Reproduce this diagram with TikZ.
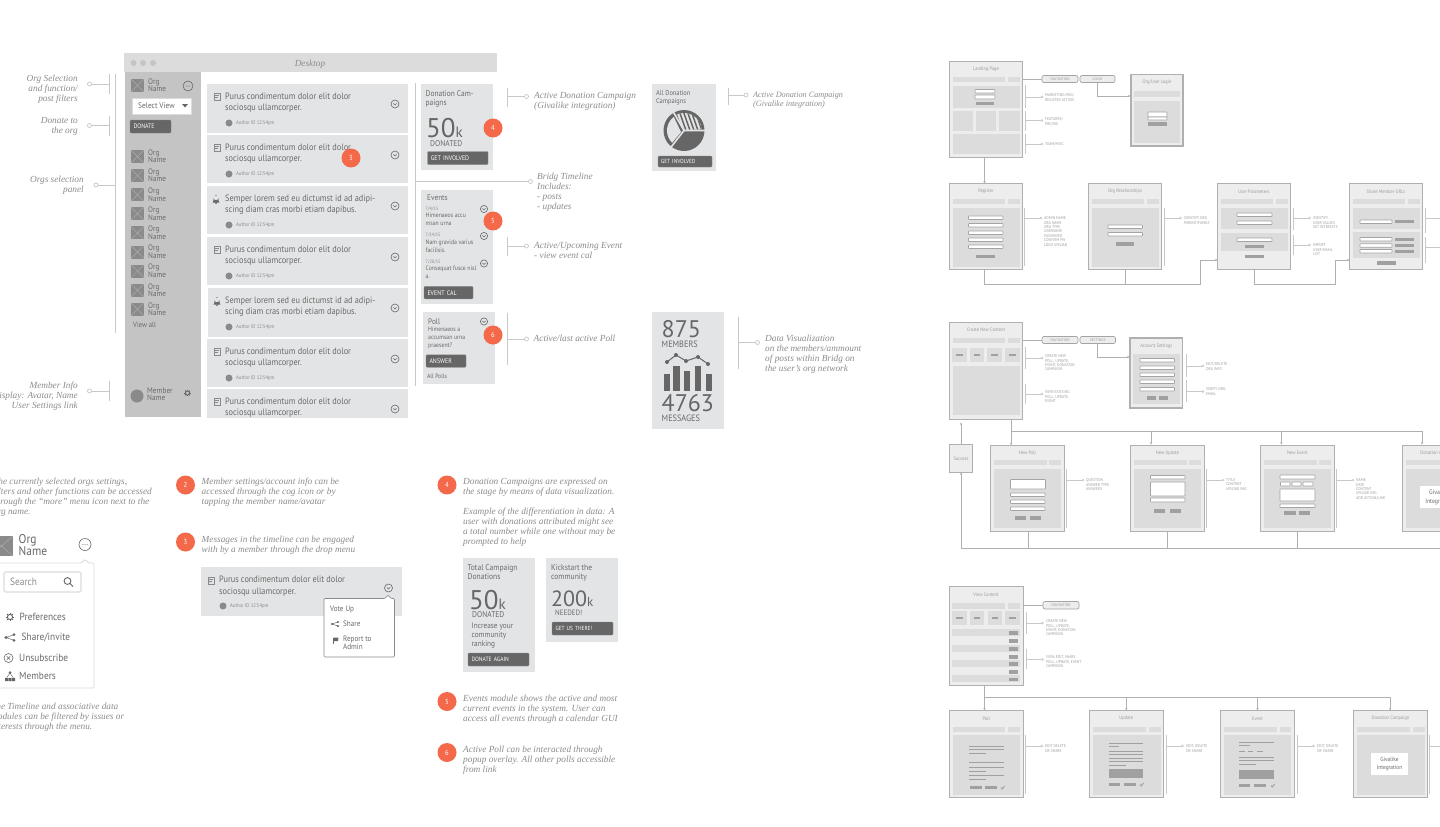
\documentclass[tikz,border=0pt]{standalone}
\usepackage{fontspec}
\setmainfont{Liberation Serif}
\setsansfont[FakeStretch=0.9,Scale=0.92]{PT Sans}
\newfontfamily\bigf{PT Sans}
\usetikzlibrary{arrows.meta,calc}
\definecolor{cardc}{HTML}{E3E4E5}
\definecolor{sidec}{HTML}{C4C4C4}
\definecolor{barc}{HTML}{DCDCDC}
\definecolor{orangec}{HTML}{F4694A}
\definecolor{darkc}{HTML}{666666}
\definecolor{txtc}{HTML}{6A6A6A}
\definecolor{notec}{HTML}{8C8C8C}
\definecolor{lblc}{HTML}{9C9C9C}
\definecolor{tickc}{HTML}{C8C8C8}
\definecolor{scrf}{HTML}{EDEDED}
\definecolor{secc}{HTML}{DCDCDC}
\definecolor{btnc}{HTML}{A0A0A0}
\definecolor{linec}{HTML}{B0B0B0}
\definecolor{phc}{HTML}{8A8A8A}
\definecolor{inpc}{HTML}{A4A4A4}
\definecolor{HTMLa}{HTML}{ABABAB}
\newcounter{tn}
\tikzset{
  screenbox/.style={draw=linec,line width=1pt,fill=scrf,inner sep=0pt,outer sep=0pt},
  scrtitle/.style={inner sep=0pt,text=lblc,font=\sffamily\fontsize{5.4}{6}\selectfont},
  pillbox/.style={draw=inpc,fill=scrf,rounded corners=2pt,line width=.7pt,inner sep=0pt,outer sep=0pt,minimum height=7pt,text=lblc,font=\sffamily\fontsize{4.3}{5}\selectfont},
  conn/.style={draw=linec,line width=.7pt},
  arrowc/.style={conn,-{Stealth[length=2.4pt,width=2.4pt]}},
  tickl/.style={draw=tickc,line width=.9pt},
  badgec/.style={circle,fill=orangec,text=white,inner sep=0pt,minimum size=19pt,font=\sffamily\fontsize{8}{9}\selectfont},
  btnnode/.style={fill=darkc,draw=phc,line width=.4pt,rounded corners=1pt,text=white,inner sep=0pt,outer sep=0pt,font=\sffamily\fontsize{7.2}{8}\selectfont},
  iconl/.style={draw=darkc,line width=.6pt}
}
% text helpers: first line mid-height sits at y
\newcommand\Sn[6][]{\stepcounter{tn}\node (s\arabic{tn}) [anchor=north west,inner sep=0pt,align=left,text=txtc,yshift={0.414*#2 pt},font=\sffamily\fontsize{#2}{#3}\selectfont,#1] at (#4,#5) {\rule{0pt}{0.7em}#6};}
\newcommand\It[4][]{\stepcounter{tn}\node (n\arabic{tn}) [anchor=north west,inner sep=0pt,align=left,text=notec,yshift=3.8pt,font=\rmfamily\itshape\fontsize{#2}{10}\selectfont,#1] at #3 {\rule{0pt}{0.7em}#4};}
\newcommand\Ir[3]{\It[anchor=north east,align=right]{9.3}{(#1,#2)}{#3}}
\newcommand\Lb[3]{\stepcounter{tn}\node (l\arabic{tn}) [anchor=north west,inner sep=0pt,align=left,text=lblc,yshift=1.85pt,font=\sffamily\fontsize{4.45}{4.45}\selectfont] at (#1,#2) {\rule{0pt}{0.7em}#3};}
\newcommand\Bg[5][]{\stepcounter{tn}\node (b\arabic{tn}) [anchor=base west,inner sep=0pt,text=#1!100!black,font=\bigf\fontsize{#2}{#2}\selectfont] at (#3,#4) {#5};}
\newcommand\R[5]{\fill[#1] (#2,#3) rectangle (#4,#5);}
\newcommand\In[4]{\draw[fill=white,draw=inpc,line width=.6pt,rounded corners=.5pt] (#1,#2) rectangle (#3,#4);}
\newcommand\Bn[4]{\fill[btnc] (#1,#2) rectangle (#3,#4);}
\newcommand\Ln[3]{\draw[btnc,line width=1pt] (#1,#3) -- (#2,#3);}
\newcommand\scr[6]{\pgfmathsetmacro\scw{#4-#2}\pgfmathsetmacro\sch{#5-#3}%
  \node[screenbox,minimum width=\scw pt,minimum height=\sch pt] (#1) at ({(#2+#4)/2},{(#3+#5)/2}) {};
  \node[scrtitle] (#1t) at ({(#2+#4)/2},#3+8) {#6};}
\newcommand\Calb[5]{\draw[tickl] (#1,#2) -- (#1,#3); \draw[tickl] (#1,#4) -- (#5,#4); \draw[draw=tickc,fill=white,line width=.7pt] (#5,#4) circle (2);}
\newcommand\Cals[4]{\draw[tickl] (#1,#2) -- (#1,#3); \draw[tickl] (#1,#4) -- (#1+15.5,#4); \draw[draw=tickc,fill=white,line width=.4pt] (#1+16.5,#4) circle (1);}
\newcommand\Pic[4]{\fill[phc] (#1,#2) rectangle (#3,#4); \draw[HTMLa,line width=.5pt] (#1,#2) -- (#3,#4) (#1,#4) -- (#3,#2);}
\newcommand\Org[2]{\Pic{#1}{#2}{#1+13}{#2+13}\Sn{8.7}{7.6}{#1+17}{#2+3}{Org\\Name}}
\newcommand\More[3]{\draw[darkc,line width=.6pt] (#1,#2) circle (#3); \foreach \q in {-1.6,0,1.6} {\fill[darkc] (#1+\q*#3/4.5,#2) circle (.5);}}
\newcommand\Chev[3]{\draw[darkc,line width=.6pt] (#1,#2) circle (#3); \draw[darkc,line width=.6pt] (#1-1.6,#2-.5) -- (#1,#2+.9) -- (#1+1.6,#2-.5);}
\newcommand\Doc[2]{\draw[phc,line width=.6pt] (#1,#2) rectangle (#1+6,#2+7); \draw[phc,line width=.6pt] (#1+1,#2+2) -- (#1+5,#2+2) (#1+1,#2+4) -- (#1+3.5,#2+4);}
\newcommand\Bell[2]{\fill[darkc] (#1-3.4,#2+3) -- (#1-2.6,#2+1.5) -- (#1-2.4,#2-1.5) arc[start angle=180,end angle=0,radius=2.4] -- (#1+2.6,#2+1.5) -- (#1+3.4,#2+3) -- cycle; \fill[darkc] (#1,#2+3.6) circle (1.1) (#1,#2-4) circle (.7);}
\newcommand\Shr[3]{\draw[darkc,line width=.5pt] (#1-#3,#2) -- (#1+#3,#2-#3*.7) (#1-#3,#2) -- (#1+#3,#2+#3*.7); \fill[darkc] (#1-#3,#2) circle (#3*.38) (#1+#3,#2-#3*.7) circle (#3*.38) (#1+#3,#2+#3*.7) circle (#3*.38);}
\newcommand\Cog[3]{\draw[darkc,line width=.9pt] (#1,#2) circle (#3*.65); \foreach \q in {0,45,...,315} {\draw[darkc,line width=.9pt] ({#1+#3*.65*cos(\q)},{#2+#3*.65*sin(\q)}) -- ({#1+#3*1.05*cos(\q)},{#2+#3*1.05*sin(\q)});}}
\newcommand\Crd[7]{\fill[cardc] (#1,#2) rectangle (408,#3);
  \ifnum#4=0 \Doc{#1+7}{#2+9}\else \Bell{#1+9}{#2+13.5}\fi
  \Sn{10}{11.5}{225}{#2+12.5}{#5\\#6}
  \fill[phc] (229,#2+39) circle (3.5);
  \Sn[text=phc]{5.7}{6}{236}{#2+39}{#7}
  \Chev{395}{#2+20}{4}}
\begin{document}
\begin{tikzpicture}[x=1pt,y=-1pt]
\useasboundingbox (0,0) rectangle (1440,827);
\fill[white] (0,0) rectangle (1440,827);
% ---------- desktop frame
\fill[barc] (124,53) rectangle (497,72);
\foreach \q in {133.5,143,153} {\fill[sidec] (\q,63) circle (3);}
\It[anchor=north]{9.3}{(310,64)}{Desktop}
\fill[sidec] (125,72) rectangle (201,417);
\Org{131}{79}
\More{188}{86}{5}
\draw[fill=white,draw=barc,line width=.8pt] (132,98) rectangle (191,114);
\Sn[text=txtc]{8.9}{9}{138}{106}{Select View}
\fill[darkc] (182,104) -- (188,104) -- (185,107.5) -- cycle;
\node[btnnode,minimum width=41pt,minimum height=13pt,text width=34pt,align=left] (donate) at (150.5,126.5) {\fontsize{7}{8}\selectfont DONATE};
\foreach \q in {150,169.1,188.2,207.3,226.4,245.5,264.6,283.7,302.8} {\Org{131}{\q}}
\Sn{8.1}{8}{133}{325.5}{View all}
\fill[phc] (137,396) circle (6.5);
\Sn{8.8}{7.6}{147}{391}{Member\\Name}
\Cog{187.5}{393}{3.2}
% ---------- timeline
\draw[tickl] (415.5,83) -- (415.5,386);
\Crd{207}{84}{133}{0}{Purus condimentum dolor elit dolor}{sociosqu ullamcorper.}{Author ID 12:54pm}
\Crd{207}{135}{183}{0}{Purus condimentum dolor elit dolor}{sociosqu ullamcorper.}{Author ID 12:54pm}
\Crd{207}{186}{234}{1}{Semper lorem sed eu dictumst id ad adipi-}{scing diam cras morbi etiam dapibus.}{Author ID 12:54pm}
\Crd{207}{237}{285}{0}{Purus condimentum dolor elit dolor}{sociosqu ullamcorper.}{Author ID 12:54pm}
\Crd{208}{288}{337}{1}{Semper lorem sed eu dictumst id ad adipi-}{scing diam cras morbi etiam dapibus.}{Author ID 12:54pm}
\Crd{207}{339}{387}{0}{Purus condimentum dolor elit dolor}{sociosqu ullamcorper.}{Author ID 12:54pm}
\begin{scope}
\clip (200,389) rectangle (412,417.5);
\Crd{207}{389}{437}{0}{Purus condimentum dolor elit dolor}{sociosqu ullamcorper.}{Author ID 12:54pm}
\end{scope}
\node[badgec] (b3) at (351,158) {3};
% left callouts
\draw[tickl] (115.5,74) -- (115.5,333);
\Calb{109}{74}{94}{84}{89.5}
\Calb{109}{116}{136}{125.5}{89.5}
\Calb{115.5}{185}{185}{185}{96}
\Calb{109}{381}{401}{391}{89.5}
\Ir{78}{79}{Org Selection\\and function/\\post filters}
\Ir{78}{121}{Donate to\\the org}
\Ir{84}{180}{Orgs selection\\panel}
\Ir{78}{386}{Member Info\\Display: Avatar, Name\\User Settings link}
% ---------- side modules
\fill[cardc] (421,84) rectangle (493,170);
\Sn{9}{9.4}{425.5}{94}{Donation Cam-\\paigns}
\Bg[darkc]{27}{426}{137.7}{50{\fontsize{15}{15}\selectfont k}}
\Sn{9.1}{9}{430}{144}{DONATED}
\node[btnnode,minimum width=60.5pt,minimum height=13pt,text width=54pt,align=left] (getin) at (457.75,158) {GET INVOLVED};
\node[badgec] (b4) at (493,128) {4};
\Calb{507}{87.5}{106.5}{96.5}{526.5}
\It{9.3}{(534,96)}{Active Donation Campaign\\(Givalike integration)}
\draw[tickl] (415.5,181.5) -- (528.5,181.5);
\draw[draw=tickc,fill=white,line width=.7pt] (530.5,181.5) circle (2);
\It{9.3}{(537,176.5)}{Bridg Timeline\\Includes:\\- posts\\- updates}
\fill[cardc] (421,190) rectangle (493,304);
\Sn{8.8}{9}{427}{198}{Events}
\Sn[text=notec]{5.2}{5}{425.5}{209}{7/4/15}
\Sn{7}{7.7}{425.5}{216}{Himenaeos accu\\msan urna}
\Sn[text=notec]{5.2}{5}{425.5}{235.5}{7/14/15}
\Sn{7}{7.7}{425.5}{243}{Nam gravida varius\\facilisis.}
\Sn[text=notec]{5.2}{5}{425.5}{262}{7/28/15}
\Sn{7}{7.7}{425.5}{269}{Consequat fusce nisl\\a.}
\Chev{484}{209}{3.6}\Chev{484}{236}{3.6}\Chev{484}{263.5}{3.6}
\node[btnnode,minimum width=49pt,minimum height=12.5pt,text width=42pt,align=left] (evcal) at (448.5,292.7) {EVENT CAL};
\node[badgec] (b5) at (493,221) {5};
\Calb{507}{237}{256}{246}{526.5}
\It{9.3}{(534,246)}{Active/Upcoming Event\\- view event cal}
\fill[cardc] (423,312) rectangle (495,384);
\Sn{8.8}{9}{428}{322}{Poll}
\Sn{7}{7.7}{428}{330}{Himenaeos a\\accumsan urna\\praesent?}
\Chev{484}{321.5}{3.6}
\node[btnnode,minimum width=40pt,minimum height=12.5pt,text width=33pt,align=left] (answer) at (446,361) {ANSWER};
\Sn[text=darkc]{6.8}{7}{427}{376.5}{All Polls}
\node[badgec] (b6) at (493,335) {6};
\Calb{507}{313}{365}{339}{526.5}
\It{9.3}{(533.5,339)}{Active/last active Poll}
% all donation card
\fill[cardc] (652,84) rectangle (716,171);
\Sn{7.7}{8}{656}{93}{All Donation\\Campaigns}
\begin{scope}[shift={(684,130.5)},x=1pt,y=1pt]
\fill[darkc] (0,0) circle (20.5);
\begin{scope}
\clip (0,0) -- (4:21) arc (4:116:21) -- cycle;
\fill[cardc] (0,0) -- (4:17.5) arc (4:116:17.5) -- cycle;
\clip (0,0) circle (17.5);
\foreach \q in {-14,-10,...,30} {\draw[darkc,line width=1.5pt] (\q,0) -- (\q-7,20);}
\end{scope}
\fill[cardc] (-3,-1.5) -- (127:17) arc (127:226:17) -- cycle;
\draw[cardc,line width=1.6pt] (0,0) -- (0:21) (0,0) -- (120:21) (0,0) -- (232:21);
\end{scope}
\node[btnnode,minimum width=54pt,minimum height=11pt,text width=48pt,align=left] (getin2) at (685,161.5) {\fontsize{6.4}{7}\selectfont GET INVOLVED};
\Calb{728.5}{87.5}{105}{95}{746}
\It[font=\rmfamily\itshape\fontsize{8.2}{9}\selectfont]{8.2}{(753,95.5)}{Active Donation Campaign\\(Givalike integration)}
% stats
\fill[cardc] (652,312) rectangle (724,429);
\Bg[darkc]{24}{661.5}{337.7}{875}
\Sn{10}{9}{661.5}{345}{MEMBERS}
\foreach \a/\b/\c in {663.5/670/374,672.5/679.5/366,683.5/690/371,694.5/701/366,705.5/712/374} {\fill[darkc] (\a,\c) rectangle (\b,390.5);}
\draw[darkc,line width=1pt] (667,362) -- (676,355) -- (686,361) -- (698,357) -- (708,364);
\foreach \a/\b in {667/362,676/355,686/361,698/357,708/364} {\fill[darkc] (\a,\b) circle (2);}
\Bg[darkc]{24}{661.5}{411.7}{4763}
\Sn{10}{9}{661.5}{419}{MESSAGES}
\Calb{738.5}{317}{369}{342.5}{757.5}
\It{9.3}{(765,339)}{Data Visualization\\on the members/ammount\\of posts within Bridg on\\the user's org network}
% ---------- bottom notes
\It{9.3}{(-7,482)}{The currently selected orgs settings,\\filters and other functions can be accessed\\through the “more” menu icon next to the\\org name.}
\Pic{-10}{536}{13}{556}
\Sn[text=darkc]{13.8}{12}{18.5}{540}{Org\\Name}
\More{85}{544.5}{6}
\draw[draw=barc,line width=.9pt,fill=white,rounded corners=1pt] (-5,563) -- (81,563) -- (85,559.5) -- (89,563) -- (94,563) -- (94,688) -- (-5,688);
\draw[draw=barc,line width=1.3pt,fill=white,rounded corners=1.5pt] (4,572) rectangle (81,592);
\Sn[text=notec]{11.3}{10}{10}{583}{Search}
\draw[darkc,line width=.9pt] (67.5,581) circle (3.4) (70,583.5) -- (73,586.5);
\Cog{10}{617}{4}
\Sn{11.3}{10}{19.5}{618}{Preferences}
\Shr{10}{637.5}{4}
\Sn{11.3}{10}{21.5}{638}{Share/invite}
\draw[darkc,line width=.6pt] (8.5,658) circle (4.5) (6.8,656.3) -- (10.2,659.7) (6.8,659.7) -- (10.2,656.3);
\Sn{11.3}{10}{19}{659}{Unsubscribe}
\fill[darkc] (10,672.5) circle (1.5) (5,678) rectangle (8,681) (8.5,678) rectangle (11.5,681) (12,678) rectangle (15,681);
\draw[darkc,line width=.4pt] (10,673) -- (6.5,678) (10,673) -- (13.5,678);
\Sn{11.3}{10}{19}{677}{Members}
\It{9.3}{(-9,707)}{The Timeline and associative data\\modules can be filtered by issues or\\interests through the menu.}
\node[badgec] (b2b) at (185.5,485) {2};
\It{9.3}{(201.5,482)}{Member settings/account info can be\\accessed through the cog icon or by\\tapping the member name/avatar}
\node[badgec] (b3b) at (185.5,542) {3};
\It{9.3}{(201.5,539.5)}{Messages in the timeline can be engaged\\with by a member through the drop menu}
\fill[cardc] (201,567) rectangle (402,616);
\Doc{208}{577}
\Sn{10}{11.5}{219}{580}{Purus condimentum dolor elit dolor\\sociosqu ullamcorper.}
\fill[phc] (223,606) circle (3.5);
\Sn[text=phc]{5.7}{6}{230}{606}{Author ID 12:54pm}
\Chev{388.5}{588}{4}
\draw[draw=phc,line width=.6pt,fill=white,rounded corners=1pt] (324,598.5) -- (385,598.5) -- (388,595) -- (391,598.5) -- (394.5,598.5) -- (394.5,657) -- (324,657) -- cycle;
\Sn{8.6}{8}{330}{609}{Vote Up}
\Shr{335}{624}{3}
\Sn{8.6}{8}{343}{624}{Share}
\fill[darkc] (333.5,637.5) -- (338.5,637.5) -- (338,641) -- (333.5,641) -- cycle;
\draw[darkc,line width=.5pt] (333.5,637.5) -- (333.5,644);
\Sn{8.6}{8.2}{343}{639}{Report to\\Admin}
% note 4
\node[badgec] (b4b) at (447,485) {4};
\It{9.3}{(463,482)}{Donation Campaigns are expressed on\\the stage by means of data visualization.\\[10pt]Example of the differentiation in data: A\\user with donations attributed might see\\a total number while one without may be\\prompted to help}
\fill[cardc] (463,558) rectangle (535,672);
\Sn{9.1}{9}{467.5}{568}{Total Campaign\\Donations}
\Bg[darkc]{27}{469}{609}{50{\fontsize{15}{15}\selectfont k}}
\Sn{9.1}{9}{472}{615}{DONATED}
\Sn{8.8}{8.9}{471.5}{626.5}{Increase your\\community\\ranking}
\node[btnnode,minimum width=61pt,minimum height=13pt,text width=54pt,align=left] (again) at (498.5,659.5) {\fontsize{6.7}{7}\selectfont DONATE AGAIN};
\fill[cardc] (546,558) rectangle (618,642);
\Sn{9.1}{9}{551}{568}{Kickstart the\\community}
\Bg[darkc]{22}{551}{606.7}{200{\fontsize{13}{13}\selectfont k}}
\Sn{8.4}{8}{555}{613}{NEEDED!}
\node[btnnode,minimum width=61pt,minimum height=13pt,text width=54pt,align=left] (gus) at (582.5,628.5) {\fontsize{6.4}{7}\selectfont GET US THERE!};
\node[badgec] (b5b) at (447,701.5) {5};
\It{9.3}{(463,698.5)}{Events module shows the active and most\\current events in the system. User can\\access all events through a calendar GUI}
\node[badgec] (b6b) at (447,752.5) {6};
\It{9.3}{(463,749.5)}{Active Poll can be interacted through\\popup overlay. All other polls accessible\\from link}
% ---------- flow 1
\scr{land}{949.5}{61.5}{1022.5}{157.5}{Landing Page}
\R{barc}{952.5}{77}{1005}{82}\R{barc}{1008}{77}{1019.5}{82}
\R{secc}{952.5}{86}{1020}{108}
\In{975}{89.5}{995}{93}\In{975}{95}{995}{99}\Bn{975.5}{101.5}{994}{105}
\R{secc}{952.5}{110.5}{973}{131}\R{secc}{975.5}{110.5}{996}{131}\R{secc}{999}{110.5}{1020}{131}
\R{secc}{952.5}{134}{1020}{154}
\node[pillbox,minimum width=36pt] (nav1) at (1060,79) {NAVIGATION};
\node[pillbox,minimum width=35pt] (login) at (1097.5,79) {LOGIN};
\draw[conn] (land.east |- nav1.west) -- (nav1.west);
\scr{ulog}{1131}{74.5}{1183}{146}{Org/User Login}
\draw[linec,line width=1.5pt] (ulog.south west) rectangle (ulog.north east);
\R{barc}{1134}{91}{1180}{97}\R{secc}{1134}{101}{1180}{143}
\In{1148}{112}{1167}{117}\In{1148}{117}{1167}{120}\Bn{1148}{122}{1167}{126}
\coordinate (lg1) at (1130.5,96);
\draw[arrowc] (login.south) |- (lg1);
\Cals{1025.5}{85}{108}{97}\Lb{1045}{95.3}{MARKETING MSG/\\REGISTER ACTION}
\Cals{1025.5}{111}{131}{120.5}\Lb{1045}{119.3}{FEATURES/\\PRICING}
\Cals{1025.5}{134}{154}{144}\Lb{1045}{144.3}{TEAM/MISC}
\scr{reg}{949.5}{183.5}{1022.5}{269.5}{Register}
\R{barc}{952.5}{199}{1005}{204}\R{barc}{1008}{199}{1019.5}{204}
\R{secc}{952.5}{207.5}{1020}{267}
\foreach \q in {216,223.5,231,238,245} {\In{968.5}{\q}{1003}{\q+3.5}}
\Bn{976}{254.7}{995}{258}
\draw[arrowc] ([xshift=-1.5pt]land.south) -- ([xshift=-1.5pt]reg.north);
\Cals{1024.5}{208}{266}{218}\Lb{1044}{218.3}{ADMIN NAME\\ORG NAME\\ORG TYPE\\USERNAME\\PASSWORD\\CONFIRM PW\\LOGO UPLOAD}
\scr{orgr}{1088.5}{183.5}{1161.5}{269.5}{Org Relationships}
\R{barc}{1091.5}{199}{1144}{204}\R{barc}{1147}{199}{1158.5}{204}
\R{secc}{1092}{207.5}{1159}{267}
\In{1108}{225}{1142.5}{228.5}\In{1108}{232.5}{1142.5}{236}\Bn{1116}{242}{1134}{246}
\Cals{1164}{208}{266}{218}\Lb{1184}{218.3}{IDENTIFY ORG\\PARENT/FAMILY}
\scr{upar}{1217.5}{183.5}{1290.5}{269.5}{User Parameters}
\R{barc}{1220.5}{199}{1273}{204}\R{barc}{1276}{199}{1287.5}{204}
\R{secc}{1221}{208}{1288}{229}\R{secc}{1221}{233}{1288}{251}
\In{1237}{213}{1272}{216.5}\In{1237}{221}{1272}{224.5}\In{1237}{238}{1272}{241.5}
\Bn{1245}{244.5}{1264}{248}\Bn{1245}{254.5}{1264}{258}
\Cals{1293}{208}{230}{218}\Lb{1313}{218.3}{IDENTIFY\\USER VALUES\\SET INTERESTS}
\Cals{1293}{235}{255}{245}\Lb{1313}{245.3}{IMPORT\\USER EMAIL\\LIST}
\scr{share}{1349.5}{183.5}{1422.5}{269.5}{Share Member URLs}
\R{barc}{1352.5}{199}{1405}{204}\R{barc}{1408}{199}{1420}{204}
\R{secc}{1353}{207.7}{1420}{229}\R{secc}{1353}{232}{1420}{258}
\In{1360}{220}{1392}{223.5}\Bn{1395}{220}{1414}{223}
\foreach \q in {237.5,243.7,249.5} {\In{1360}{\q}{1392}{\q+3.5}\Bn{1395}{\q}{1414}{\q+3.3}}
\Bn{1377}{261}{1396}{264.5}
\draw[tickl] (1425.5,208) -- (1425.5,233) (1425.5,218.5) -- (1442,218.5) (1425.5,237) -- (1425.5,263) (1425.5,247) -- (1442,247);
\coordinate (j1) at (1200,284.5);
\coordinate (j2) at (1335,284.5);
\draw[conn] ([xshift=-1.5pt]reg.south) |- (j1);
\draw[conn] (orgr.south |- reg.south) -- (orgr.south |- j1);
\draw[arrowc] (j1) |- ([yshift=-33.5pt]upar.west);
\draw[conn] (upar.south) |- (j2);
\draw[arrowc] (j2) |- ([yshift=-33.5pt]share.west);
% ---------- flow 2
\scr{cnew}{949.5}{322}{1022.5}{419.5}{Create New Content}
\R{barc}{952.5}{338}{1005}{343}\R{barc}{1008}{338}{1019.5}{343}
\foreach \a/\b in {952/966.5,969.5/984,987/1002,1005/1019.5} {\R{secc}{\a}{347.5}{\b}{362}\Bn{\a+4}{354}{\b-4}{356}}
\R{secc}{952.5}{366}{1020}{415}
\node[pillbox,minimum width=36pt] (nav2) at (1060,340) {NAVIGATION};
\node[pillbox,minimum width=35.5pt] (sett) at (1097.75,340) {SETTINGS};
\draw[conn] (cnew.east |- nav2.west) -- (nav2.west);
\scr{acct}{1130}{338}{1182.5}{408}{Account Settings}
\draw[linec,line width=1.5pt] (acct.south west) rectangle (acct.north east);
\R{secc}{1133}{354}{1180}{404}
\foreach \q in {358.5,366,373,380,387.5} {\In{1140}{\q}{1174.5}{\q+3.5}}
\Bn{1147}{396}{1156}{400}\Bn{1159}{396}{1168}{400}
\coordinate (sg1) at (1129.5,357);
\draw[arrowc] ([xshift=-.25pt]sett.south) |- (sg1);
\Cals{1186.5}{354}{377}{366}\Lb{1206}{364.5}{EDIT/DELETE\\ORG INFO}
\Cals{1186.5}{380}{402}{391.5}\Lb{1206}{389.5}{VERIFY ORG.\\EMAIL}
\Cals{1025.5}{346.5}{369}{358}\Lb{1045}{356.3}{CREATE NEW\\POLL, UPDATE,\\EVENT, DONATION\\CAMPAIGN}
\Cals{1025.5}{384}{404}{394}\Lb{1045}{392.3}{VIEW EXISTING\\POLL, UPDATE,\\EVENT}
\node[screenbox,minimum width=23.5pt,minimum height=28pt,font=\sffamily\fontsize{5.5}{6}\selectfont,text=lblc] (succ) at (961,458.5) {Success};
\scr{npoll}{990.5}{445}{1064.5}{531}{New Poll}
\R{barc}{994}{460}{1047}{465}\R{barc}{1049}{460}{1061}{465}
\R{secc}{994}{469}{1061}{528}
\In{1010.5}{479.5}{1045.5}{489}
\foreach \q in {493,500,507} {\In{1010.5}{\q}{1045}{\q+3.5}}
\Bn{1015}{516}{1026}{520}\Bn{1030}{516}{1041}{520}
\Cals{1066.5}{469}{528}{480.2}\Lb{1086}{480.3}{QUESTION\\ANSWER TYPE\\ANSWERS}
\scr{nupd}{1130.5}{445}{1204.5}{531}{New Update}
\R{barc}{1134}{460}{1187}{465}\R{barc}{1189}{460}{1201}{465}
\R{secc}{1134}{469}{1201}{528}
\In{1150.5}{475.5}{1185}{479}\In{1150.5}{482}{1185}{496}\In{1150.5}{498}{1185}{502}
\Bn{1154}{509}{1165}{512.5}\Bn{1169.5}{509}{1181}{512.5}
\Cals{1206.5}{469}{528}{480.2}\Lb{1226}{480.3}{TITLE\\CONTENT\\UPLOAD IMG}
\scr{nevt}{1260.5}{445}{1334}{531}{New Event}
\R{barc}{1264}{460}{1317}{465}\R{barc}{1319}{460}{1331}{465}
\R{secc}{1264}{469}{1331}{528}
\In{1280}{475}{1315}{479}\In{1280.5}{482}{1290}{486}\In{1292}{482}{1301}{486}\In{1303}{482}{1313}{486}
\In{1280}{489}{1315}{501}\In{1280}{504}{1315}{507.5}
\Bn{1284}{511}{1295.5}{514.5}\Bn{1299}{511}{1310}{514.5}
\Cals{1336.5}{469}{528}{480.2}\Lb{1356}{480.3}{NAME\\DATE\\CONTENT\\UPLOAD IMG\\ADD ACTION/LINK}
\scr{ndon}{1402.5}{445}{1476}{531}{Donation Campaign}
\R{barc}{1406}{460}{1459}{465}\R{barc}{1462}{460}{1473}{465}
\R{secc}{1406}{469}{1473}{528}
\node[fill=white,minimum width=38pt,minimum height=22pt,inner sep=0pt,align=center,text=txtc,font=\sffamily\fontsize{7}{9}\selectfont] (gv1) at (1439,497) {Givalike\\Integration};
\coordinate (top2) at (1011,431);
\coordinate (top2e) at (1422,431);
\coordinate (bot2) at (1442,548);
\coordinate (bot2w) at (961,548);
\draw[conn] (cnew.south -| top2) -- (top2) -- (top2e);
\draw[arrowc] (top2) -- (top2 |- npoll.north);
\draw[arrowc] (nupd.north |- top2) ++(-16.5pt,0) -- ++(0,-13.5pt);
\draw[arrowc] (nevt.north |- top2) ++(-16pt,0) -- ++(0,-13.5pt);
\draw[arrowc] (top2e) -- ++(0,-13.5pt);
\draw[arrowc] (succ.north) -- ++(0,22pt);
\draw[arrowc] (bot2w) -- (succ.south);
\draw[conn] (bot2w) -- (bot2);
\foreach \nm/\dx in {npoll/.5,nupd/-.5,nevt/.25} {\draw[conn] ([xshift=\dx pt]\nm.south) -- ([xshift=\dx pt]\nm.south |- bot2);}
% ---------- flow 3
\scr{view}{949}{586.5}{1023}{685}{View Content}
\R{barc}{952}{603}{1005}{609}\R{barc}{1008}{603}{1020}{609}
\foreach \a/\b in {952/966.5,970/984,987.5/1002,1005/1020} {\R{secc}{\a}{610.5}{\b}{625}\Bn{\a+4}{616.5}{\b-4}{618.5}}
\foreach \q in {629,645,660,675} {\R{secc}{952}{\q}{1020}{\q+7}}
\foreach \q in {631,639,647,655,662,670,677.5} {\Bn{1009}{\q}{1018}{\q+3.5}}
\node[pillbox,minimum width=36pt,minimum height=7.5pt] (nav3) at (1061,605.25) {NAVIGATION};
\draw[conn] (view.east |- nav3.west) -- (nav3.west);
\Cals{1026}{612}{634}{623}\Lb{1046}{621.3}{CREATE NEW\\POLL, UPDATE,\\EVENT, DONATION\\CAMPAIGN}
\Cals{1026}{649}{669}{659.5}\Lb{1046}{657.3}{VIEW, EDIT, SHARE\\POLL, UPDATE, EVENT\\CAMPAIGN}
\scr{vpoll}{949.5}{710.5}{1023}{797}{Poll}
\R{barc}{952.5}{726.5}{1005}{732}\R{barc}{1008}{726.5}{1020}{732}
\R{secc}{952.5}{735}{1020}{795}
\foreach \q in {746,749.5,762,767.5,775.5} {\Ln{969}{1004}{\q}}
\Ln{969}{986}{753}\Ln{969}{986}{771}\Ln{969}{986}{779}
\Bn{970}{786}{981.5}{789}\Bn{985}{786}{997}{789}
\draw[btnc,line width=.9pt] (1001,787.5) -- (1002.3,789) -- (1004.5,786);
\Cals{1025.5}{735}{794}{746}\Lb{1045}{746.3}{EDIT DELETE\\OR SHARE}
\scr{vupd}{1089.5}{710.5}{1163}{797}{Update}
\R{barc}{1093}{726.5}{1146}{732}\R{barc}{1149}{726.5}{1161}{732}
\R{secc}{1093}{735}{1161}{795}
\foreach \q in {743,751,754.5,758,761.5} {\Ln{1108.5}{1143}{\q}}
\Ln{1108.5}{1119}{746}\Ln{1108.5}{1126}{765}
\Bn{1108.5}{769}{1143}{778}
\Bn{1109}{783}{1120}{786}\Bn{1124}{783}{1135.5}{786}
\draw[btnc,line width=.9pt] (1140,784.5) -- (1141.3,786) -- (1143.5,783);
\Cals{1166}{735}{794}{746}\Lb{1186}{746.3}{EDIT, DELETE\\OR SHARE}
\scr{vevt}{1220.5}{710.5}{1294.5}{797}{Event}
\R{barc}{1224}{726.5}{1277}{732}\R{barc}{1280}{726.5}{1291}{732}
\R{secc}{1224}{735}{1291}{795}
\Ln{1239}{1274}{742}\Ln{1239}{1250}{745}
\Ln{1239}{1245}{751.5}\Ln{1247.5}{1253}{751.5}\Ln{1257}{1263}{751.5}
\Ln{1239}{1274}{757}\Ln{1239}{1274}{760.5}\Ln{1239}{1256}{764}
\Bn{1239}{770}{1273.5}{779}
\Bn{1239}{784}{1250}{787}\Bn{1254}{784}{1265.5}{787}
\draw[btnc,line width=.9pt] (1271,785.5) -- (1272.3,787) -- (1274.5,784);
\Cals{1297}{735}{794}{746}\Lb{1317}{746.3}{EDIT, DELETE\\OR SHARE}
\scr{vdon}{1353.5}{710.5}{1427.5}{797}{Donation Campaign}
\R{barc}{1356.5}{726.5}{1410}{732}\R{barc}{1413}{726.5}{1424.5}{732}
\R{secc}{1356.5}{735}{1424.5}{795}
\node[fill=white,minimum width=37pt,minimum height=22pt,inner sep=0pt,align=center,text=txtc,font=\sffamily\fontsize{6.5}{7.6}\selectfont] (gv2) at (1389.5,764) {Givalike\\Integration};
\draw[tickl] (1429.5,735) -- (1429.5,794) (1429.5,746) -- (1442,746);
\coordinate (top3) at (984.5,697);
\coordinate (top3e) at (1390,697);
\draw[conn] (view.south -| top3) -- (top3) -- (top3e);
\draw[arrowc] (top3) -- (top3 |- vpoll.north);
\draw[arrowc] (top3 -| vupd.north) -- (vupd.north);
\draw[arrowc] (top3 -| vevt.north) -- (vevt.north);
\draw[arrowc] (top3e) -- (top3e |- vdon.north);
\end{tikzpicture}
\end{document}
